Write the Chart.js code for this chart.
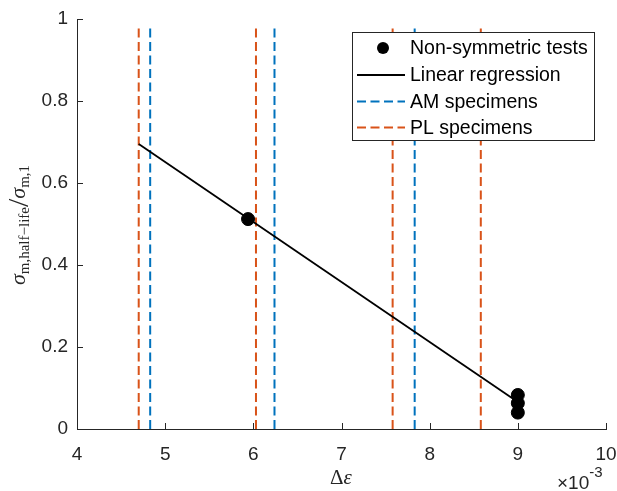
<!DOCTYPE html>
<html>
<head>
<meta charset="utf-8">
<script src="https://cdn.jsdelivr.net/npm/chart.js@4.4.1/dist/chart.umd.min.js"></script>
<style>
  html, body { margin: 0; padding: 0; background: #fff; }
  #wrap { width: 617px; height: 491px; }
</style>
</head>
<body>
<div id="wrap"><canvas id="chart" width="617" height="491"></canvas></div>
<script>
// values (strain range in units of 1e-3)
const TEST_X = [5.94, 9.00, 9.00, 9.00];
const TEST_Y = [0.512, 0.083, 0.063, 0.040];
const FIT_X = [4.70, 9.00];
const FIT_Y = [0.695, 0.066];
const AM_X = [4.83, 6.24, 7.83];
const PL_X = [4.70, 6.03, 7.58, 8.58];
const SPEC_Y = [0, 0.98];
const X_TICKS = [4, 5, 6, 7, 8, 9, 10];
const Y_TICKS = [0, 0.2, 0.4, 0.6, 0.8, 1];

const AXIS_COLOR = "#262626";
const BLUE = "#0072BD";
const ORANGE = "#D95319";
const TICK_FONT = "Liberation Sans, Arial, sans-serif";
const SERIF = "Liberation Serif, Times New Roman, serif";

function vline(x, color) {
  return {
    type: "line",
    data: SPEC_Y.map((y) => ({ x: x, y: y })),
    borderColor: color,
    borderWidth: 2,
    borderDash: [9, 4.5],
    pointRadius: 0,
    fill: false,
  };
}

const datasets = [
  {
    type: "scatter",
    data: TEST_X.map((x, i) => ({ x: x, y: TEST_Y[i] })),
    backgroundColor: "#000",
    borderColor: "#000",
    pointRadius: 6.5,
    pointHoverRadius: 6.5,
  },
  {
    type: "line",
    data: FIT_X.map((x, i) => ({ x: x, y: FIT_Y[i] })),
    borderColor: "#000",
    borderWidth: 1.8,
    pointRadius: 0,
    fill: false,
  },
  ...AM_X.map((x) => vline(x, BLUE)),
  ...PL_X.map((x) => vline(x, ORANGE)),
];

// inward tick marks, axis labels and the boxed legend
const decorations = {
  id: "decorations",
  afterDraw(chart) {
    const ctx = chart.ctx;
    const xs = chart.scales.x, ys = chart.scales.y;
    const area = chart.chartArea;
    ctx.save();
    ctx.strokeStyle = AXIS_COLOR;
    ctx.lineWidth = 1;
    ctx.beginPath();
    X_TICKS.forEach((v) => {
      const px = Math.round(xs.getPixelForValue(v)) + 0.5;
      ctx.moveTo(px, area.bottom);
      ctx.lineTo(px, area.bottom - 6);
    });
    Y_TICKS.forEach((v) => {
      const py = Math.round(ys.getPixelForValue(v)) + 0.5;
      ctx.moveTo(area.left, py);
      ctx.lineTo(area.left + 6, py);
    });
    ctx.stroke();

    // x label
    ctx.fillStyle = AXIS_COLOR;
    ctx.textBaseline = "alphabetic";
    ctx.textAlign = "left";
    ctx.font = "italic 21px " + SERIF;
    const ew = ctx.measureText("\u03b5").width;
    ctx.font = "21px " + SERIF;
    const dw = ctx.measureText("\u0394").width;
    const lx = 341 - (dw + ew) / 2;
    ctx.fillText("\u0394", lx, 484);
    ctx.font = "italic 21px " + SERIF;
    ctx.fillText("\u03b5", lx + dw, 484);

    // exponent
    ctx.font = "19px " + TICK_FONT;
    ctx.fillText("\u00d710", 557, 489);
    const ew2 = ctx.measureText("\u00d710").width;
    ctx.font = "15px " + TICK_FONT;
    ctx.fillText("-3", 557 + ew2, 477);

    // y label (rotated)
    const parts = [
      { t: "\u03c3", f: "italic 22px " + SERIF, b: 0 },
      { t: "m,half\u2212life", f: "15px " + SERIF, b: 4 },
      { t: "/", f: "30px " + SERIF, b: 3 },
      { t: "\u03c3", f: "italic 22px " + SERIF, b: 0 },
      { t: "m,1", f: "15px " + SERIF, b: 4 },
    ];
    let total = 0;
    parts.forEach((p) => { ctx.font = p.f; p.w = ctx.measureText(p.t).width; total += p.w; });
    ctx.translate(0, 225);
    ctx.rotate(-Math.PI / 2);
    let cx = -total / 2;
    parts.forEach((p) => {
      ctx.font = p.f;
      ctx.fillText(p.t, cx, 25 + p.b);
      cx += p.w;
    });
    ctx.restore();

    // legend
    ctx.save();
    const bx = 352.5, by = 32.5, bw = 242, bh = 108;
    ctx.fillStyle = "#fff";
    ctx.fillRect(bx, by, bw, bh);
    ctx.strokeStyle = AXIS_COLOR;
    ctx.lineWidth = 1;
    ctx.strokeRect(bx, by, bw, bh);
    const rows = [
      { label: "Non-symmetric tests", kind: "dot" },
      { label: "Linear regression", kind: "solid", color: "#000" },
      { label: "AM specimens", kind: "dash", color: BLUE },
      { label: "PL specimens", kind: "dash", color: ORANGE },
    ];
    const rowY = [48, 75, 101.5, 127.5];
    ctx.font = "19.5px " + TICK_FONT;
    ctx.textBaseline = "middle";
    rows.forEach((r, i) => {
      const y = rowY[i];
      if (r.kind === "dot") {
        ctx.fillStyle = "#000";
        ctx.beginPath();
        ctx.arc(383, y, 6, 0, Math.PI * 2);
        ctx.fill();
      } else {
        ctx.strokeStyle = r.color;
        ctx.lineWidth = r.kind === "solid" ? 1.8 : 2;
        ctx.setLineDash(r.kind === "dash" ? [9, 4.5] : []);
        ctx.beginPath();
        ctx.moveTo(357, y);
        ctx.lineTo(405, y);
        ctx.stroke();
        ctx.setLineDash([]);
      }
      ctx.fillStyle = "#000";
      ctx.fillText(r.label, 410, y + 1);
    });
    ctx.restore();
  },
};

new Chart(document.getElementById("chart"), {
  type: "scatter",
  data: { datasets: datasets },
  options: {
    responsive: false,
    animation: false,
    devicePixelRatio: 1,
    layout: { padding: { top: 19, right: 11, bottom: 0, left: 0 } },
    plugins: { legend: { display: false }, tooltip: { enabled: false } },
    events: [],
    scales: {
      x: {
        type: "linear",
        min: 4,
        max: 10,
        afterBuildTicks: (scale) => { scale.ticks = X_TICKS.map((v) => ({ value: v })); },
        afterFit: (scale) => { scale.height = 62; scale.paddingRight = 0; scale.paddingLeft = 0; },
        ticks: {
          color: AXIS_COLOR,
          font: { family: TICK_FONT, size: 19 },
          padding: 14,
          maxRotation: 0,
        },
        grid: { display: false, drawTicks: false },
        border: { display: true, color: AXIS_COLOR, width: 1 },
      },
      y: {
        type: "linear",
        min: 0,
        max: 1,
        afterBuildTicks: (scale) => { scale.ticks = Y_TICKS.map((v) => ({ value: v })); },
        afterFit: (scale) => { scale.width = 77; scale.paddingTop = 0; scale.paddingBottom = 0; },
        ticks: {
          color: AXIS_COLOR,
          font: { family: TICK_FONT, size: 19 },
          padding: 9,
          callback: (v) => String(Math.round(v * 10) / 10),
        },
        grid: { display: false, drawTicks: false },
        border: { display: true, color: AXIS_COLOR, width: 1 },
      },
    },
  },
  plugins: [decorations],
});
</script>
</body>
</html>
